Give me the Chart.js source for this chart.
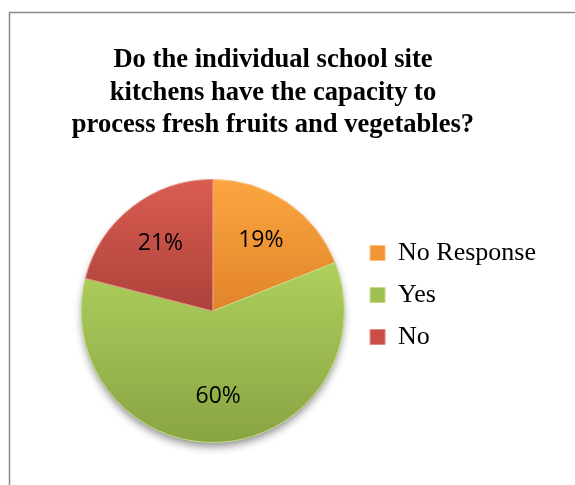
<!DOCTYPE html>
<html>
<head>
<meta charset="utf-8">
<script src="https://cdn.jsdelivr.net/npm/chart.js@4.4.1/dist/chart.umd.min.js"></script>
<style>
    html, body { margin: 0; padding: 0; background: #ffffff; }
</style>
</head>
<body>
<canvas id="kitchenChart" width="575" height="485"></canvas>
<script>
// Данные диаграммы
const categories = ['No Response', 'Yes', 'No'];
const shares = [19, 60, 21];
const titleLines = [
    'Do the individual school site',
    'kitchens have the capacity to',
    'process fresh fruits and vegetables?'
];

// Цвета секторов: основной, верх градиента, низ градиента, кромка
const baseColors = ['#F39436', '#9EBF52', '#C84E47'];
const topColors = ['#FBA640', '#AECF5D', '#DA5C51'];
const bottomColors = ['#E2842A', '#89A443', '#AC423B'];
const edgeColors = ['#FCC080', '#C4DD86', '#E48A83'];

const serifFont = '"Liberation Serif", "Times New Roman", serif';

// Рамка области диаграммы и заголовок в три строки
const frameTitlePlugin = {
    id: 'frameTitlePlugin',
    beforeDraw: (chart) => {
        const ctx = chart.ctx;
        ctx.save();
        ctx.fillStyle = '#ffffff';
        ctx.fillRect(0, 0, chart.width, chart.height);
        ctx.strokeStyle = '#8a8a8a';
        ctx.lineWidth = 1.5;
        ctx.beginPath();
        ctx.moveTo(9.5, chart.height);
        ctx.lineTo(9.5, 12.5);
        ctx.lineTo(chart.width, 12.5);
        ctx.stroke();

        ctx.font = `bold 26.6px ${serifFont}`;
        ctx.fillStyle = '#000000';
        ctx.textAlign = 'center';
        ctx.textBaseline = 'alphabetic';
        const centerX = Math.round(chart.width * 0.475);
        titleLines.forEach((line, i) => {
            ctx.fillText(line, centerX, 67 + i * 32.5);
        });
        ctx.restore();
    }
};

// Тень под кругом и вертикальный градиент в каждом секторе
const shadeSlicesPlugin = {
    id: 'shadeSlicesPlugin',
    beforeDatasetsDraw: (chart) => {
        const ctx = chart.ctx;
        const arcs = chart.getDatasetMeta(0).data;
        if (!arcs.length) return;
        const first = arcs[0];

        ctx.save();
        ctx.shadowColor = 'rgba(0, 0, 0, 0.45)';
        ctx.shadowBlur = 9;
        ctx.shadowOffsetY = 5;
        ctx.fillStyle = '#9EBF52';
        ctx.beginPath();
        ctx.arc(first.x, first.y, first.outerRadius - 1, 0, Math.PI * 2);
        ctx.fill();
        ctx.restore();

        arcs.forEach((arc, i) => {
            let minY = arc.y;
            let maxY = arc.y;
            const steps = 40;
            for (let s = 0; s <= steps; s++) {
                const a = arc.startAngle + (arc.endAngle - arc.startAngle) * s / steps;
                const py = arc.y + Math.sin(a) * arc.outerRadius;
                minY = Math.min(minY, py);
                maxY = Math.max(maxY, py);
            }
            const grad = ctx.createLinearGradient(0, minY, 0, maxY);
            grad.addColorStop(0, topColors[i]);
            grad.addColorStop(1, bottomColors[i]);
            arc.options.backgroundColor = grad;
        });
    }
};

// Подписи процентов внутри секторов
const percentLabelsPlugin = {
    id: 'percentLabelsPlugin',
    afterDatasetsDraw: (chart) => {
        const ctx = chart.ctx;
        const data = chart.data.datasets[0].data;
        const total = data.reduce((sum, v) => sum + v, 0);
        ctx.save();
        ctx.font = '23px "Open Sans", "Noto Sans", sans-serif';
        ctx.fillStyle = '#000000';
        ctx.textAlign = 'center';
        ctx.textBaseline = 'middle';
        chart.getDatasetMeta(0).data.forEach((arc, i) => {
            const mid = (arc.startAngle + arc.endAngle) / 2;
            const r = arc.outerRadius * 0.65;
            const text = Math.round(data[i] / total * 100) + '%';
            ctx.fillText(text, arc.x + Math.cos(mid) * r, arc.y + Math.sin(mid) * r);
        });
        ctx.restore();
    }
};

const kitchenCanvas = document.getElementById('kitchenChart');
const kitchenChart = new Chart(kitchenCanvas.getContext('2d'), {
    type: 'pie',
    data: {
        labels: categories,
        datasets: [{
            data: shares,
            backgroundColor: baseColors,
            borderColor: edgeColors,
            borderWidth: 1
        }]
    },
    options: {
        responsive: false,
        maintainAspectRatio: false,
        animation: false,
        layout: {
            padding: { left: 71.5, right: 29, top: 179, bottom: 42 }
        },
        plugins: {
            title: { display: false },
            legend: {
                display: true,
                position: 'right',
                align: 'start',
                title: {
                    display: true,
                    text: '',
                    font: { size: 12 },
                    padding: { top: 30.6, bottom: 0 }
                },
                labels: {
                    boxWidth: 15,
                    boxHeight: 15,
                    padding: 16,
                    color: '#000000',
                    font: { family: serifFont, size: 26 }
                }
            },
            tooltip: { enabled: false }
        }
    },
    plugins: [frameTitlePlugin, shadeSlicesPlugin, percentLabelsPlugin]
});
</script>
</body>
</html>
